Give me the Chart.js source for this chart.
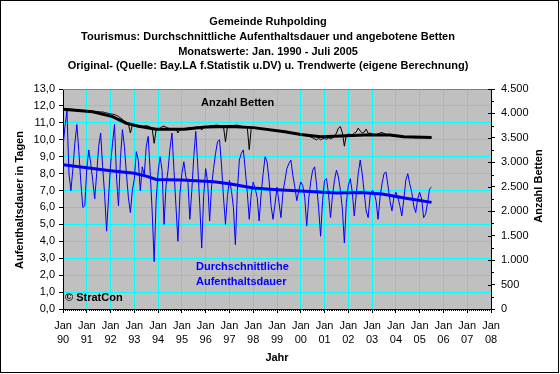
<!DOCTYPE html>
<html>
<head>
<meta charset="utf-8">
<script src="https://cdn.jsdelivr.net/npm/chart.js@4.4.1/dist/chart.umd.min.js"></script>
<style>
  html, body { margin: 0; padding: 0; background: #fff; }
  #wrap { width: 560px; height: 374px; position: relative; }
</style>
</head>
<body>
<div id="wrap"><canvas id="chart"></canvas></div>
<script>
// x tick labels (Jan of each year)
const xTickLabels = ['90','91','92','93','94','95','96','97','98','99','00','01','02','03','04','05','06','07','08'];

// average length of stay in days, monthly Jan 1990 - Jul 2005
const stayValues = [
  9.5, 10.8, 11.7, 8.0, 7.0, 8.3, 9.8, 10.9, 9.3, 7.5, 6.0, 6.1,
  8.3, 9.4, 8.6, 7.6, 6.5, 8.0, 9.6, 10.4, 8.4, 6.8, 4.6, 6.6,
  8.5, 9.8, 10.9, 7.8, 6.1, 8.9, 10.6, 9.6, 8.0, 6.6, 5.7, 7.0,
  7.7, 9.3, 8.8, 7.0, 8.4, 7.9, 9.6, 10.2, 8.1, 5.8, 2.8, 6.4,
  8.1, 9.0, 8.2, 5.0, 7.3, 8.2, 9.5, 10.4, 8.2, 6.1, 4.0, 6.8,
  8.0, 8.7, 7.8, 7.6, 5.3, 7.0, 9.0, 10.5, 8.5, 6.2, 3.6, 6.7,
  8.3, 7.5, 5.2, 7.3, 8.3, 9.2, 9.9, 10.0, 8.5, 6.6, 5.0, 6.7,
  7.6, 7.0, 6.0, 3.8, 7.0, 8.8, 9.2, 9.4, 8.2, 6.9, 5.3, 6.8,
  7.5, 7.1, 6.6, 5.2, 6.8, 8.0, 9.0, 8.7, 7.6, 6.1, 5.3, 6.2,
  7.2, 6.3, 5.4, 6.9, 7.6, 8.3, 8.6, 8.8, 7.9, 7.2, 6.4, 7.0,
  7.5, 7.3, 6.6, 4.9, 6.5, 7.5, 8.2, 8.4, 7.3, 6.0, 4.3, 6.4,
  7.6, 7.7, 6.8, 5.4, 6.7, 7.6, 8.2, 7.8, 7.0, 5.9, 3.9, 6.3,
  7.3, 7.7, 6.9, 5.5, 6.8, 8.0, 8.8, 8.0, 6.9, 5.8, 5.4, 6.7,
  7.0, 6.9, 6.4, 5.3, 6.6, 7.4, 8.0, 8.1, 7.3, 6.4, 5.8, 6.6,
  6.9, 6.6, 6.1, 5.5, 6.5, 7.6, 8.0, 7.4, 6.9, 6.1, 5.7, 6.5,
  6.9, 6.5, 5.4, 5.6, 6.3, 7.1, 7.2
];

// offered beds, monthly Jan 1990 - Jul 2005
const bedValues = [
  4100, 4095, 4090, 4090, 4085, 4085, 4080, 4075, 4070, 4065, 4060, 4060,
  4055, 4050, 4045, 4045, 4040, 4040, 4035, 4030, 4030, 4020, 4010, 4000,
  3990, 3985, 3975, 3960, 3940, 3910, 3880, 3840, 3810, 3790, 3600, 3760,
  3740, 3730, 3720, 3720, 3730, 3740, 3750, 3740, 3720, 3690, 3390, 3660,
  3670, 3700, 3730, 3740, 3720, 3700, 3690, 3690, 3680, 3680, 3600, 3680,
  3680, 3690, 3690, 3700, 3700, 3710, 3710, 3720, 3720, 3710, 3660, 3720,
  3720, 3730, 3740, 3750, 3750, 3760, 3760, 3750, 3740, 3730, 3420, 3730,
  3740, 3750, 3750, 3760, 3760, 3750, 3740, 3730, 3720, 3720, 3260, 3700,
  3710, 3710, 3700, 3700, 3690, 3690, 3680, 3670, 3670, 3660, 3650, 3650,
  3640, 3640, 3630, 3620, 3620, 3610, 3600, 3590, 3590, 3580, 3570, 3570,
  3560, 3560, 3550, 3540, 3530, 3520, 3500, 3480, 3460, 3490, 3460, 3480,
  3490, 3470, 3500, 3480, 3500, 3520, 3600, 3700, 3730, 3600, 3330, 3560,
  3580, 3570, 3560, 3600, 3620, 3700, 3640, 3600, 3620, 3680, 3590, 3600,
  3580, 3570, 3570, 3580, 3600, 3610, 3590, 3570, 3560, 3570, 3540, 3560,
  3550, 3550, 3530, 3520, 3510, 3510, 3520, 3520, 3510, 3510, 3500, 3510,
  3510, 3510, 3510, 3510, 3510, 3510, 3510
];

// trend values (month index since Jan 1990)
const stayTrendMonths = [0, 12, 24, 36, 42, 47, 60, 76, 84, 96, 108, 120, 138, 150, 161, 173, 186];
const stayTrendValues = [8.53, 8.35, 8.17, 8.02, 7.85, 7.65, 7.62, 7.52, 7.4, 7.15, 7.05, 6.97, 6.86, 6.88, 6.79, 6.54, 6.3];
const bedTrendMonths  = [0, 15, 25, 32, 39, 47, 61, 72, 84, 96, 112, 120, 130, 140, 152, 165, 172, 186];
const bedTrendValues  = [4086, 4036, 3935, 3800, 3731, 3677, 3677, 3725, 3731, 3710, 3627, 3570, 3525, 3537, 3560, 3560, 3525, 3506];

const FONT = "'Liberation Sans', Arial, sans-serif";
const BLUE = '#0000ff';

const monthly = vals => vals.map((v, i) => ({ x: i, y: v }));
const paired  = (ms, vals) => ms.map((m, i) => ({ x: m, y: vals[i] }));
const thousands = v => String(v).replace(/\B(?=(\d{3})+(?!\d))/g, '.');

const decor = {
  id: 'decor',
  beforeDraw(chart) {
    const { ctx, chartArea: a } = chart;
    ctx.save();
    ctx.fillStyle = '#fff';
    ctx.fillRect(0, 0, chart.width, chart.height);
    ctx.fillStyle = '#c0c0c0';
    ctx.fillRect(a.left, a.top, a.right - a.left, a.bottom - a.top);
    ctx.restore();
  },
  afterDraw(chart) {
    const { ctx, chartArea: a } = chart;
    const { x, y2 } = chart.scales;
    ctx.save();
    // plot top border
    ctx.strokeStyle = '#808080';
    ctx.lineWidth = 1;
    ctx.beginPath(); ctx.moveTo(a.left, a.top + 0.5); ctx.lineTo(a.right, a.top + 0.5); ctx.stroke();
    ctx.strokeStyle = '#000';
    ctx.beginPath();
    // right axis minor ticks + inner major ticks
    for (let v = 250; v < 4500; v += 500) {
      const p = Math.round(y2.getPixelForValue(v)) + 0.5;
      ctx.moveTo(a.right, p); ctx.lineTo(a.right + 3, p);
    }
    for (let v = 0; v <= 4500; v += 500) {
      const p = Math.round(y2.getPixelForValue(v)) + 0.5;
      ctx.moveTo(a.right - 3, p); ctx.lineTo(a.right, p);
    }
    // x axis monthly minor ticks
    for (let m = 1; m < 216; m++) {
      if (m % 12 === 0) continue;
      const p = Math.round(x.getPixelForValue(m)) + 0.5;
      ctx.moveTo(p, a.bottom); ctx.lineTo(p, a.bottom + 2);
    }
    ctx.stroke();
    // outer border
    ctx.strokeRect(0.5, 0.5, chart.width - 2, chart.height - 2);

    // title
    ctx.fillStyle = '#000';
    ctx.textAlign = 'center';
    ctx.textBaseline = 'middle';
    ctx.font = 'bold 11px ' + FONT;
    const title = [
      'Gemeinde Ruhpolding',
      'Tourismus: Durchschnittliche Aufenthaltsdauer und angebotene Betten',
      'Monatswerte: Jan. 1990 - Juli 2005',
      'Original- (Quelle: Bay.LA f.Statistik u.DV) u. Trendwerte (eigene Berechnung)'
    ];
    title.forEach((t, i) => ctx.fillText(t, 268, 22 + i * 14.8));

    // axis titles
    ctx.fillText('Jahr', 277, 358);
    ctx.save();
    ctx.translate(20, 200); ctx.rotate(-Math.PI / 2);
    ctx.fillText('Aufenthaltsdauer in Tagen', 0, 0);
    ctx.restore();
    ctx.save();
    ctx.translate(539, 186); ctx.rotate(-Math.PI / 2);
    ctx.fillText('Anzahl Betten', 0, 0);
    ctx.restore();

    // in-plot labels
    ctx.textAlign = 'left';
    ctx.fillText('Anzahl Betten', 201, 103);
    ctx.fillText('\u00A9 StratCon', 65, 298);
    ctx.fillStyle = BLUE;
    ctx.fillText('Durchschnittliche', 196, 267);
    ctx.fillText('Aufenthaltsdauer', 196, 282);
    ctx.restore();
  }
};

new Chart(document.getElementById('chart'), {
  type: 'line',
  data: {
    datasets: [
      { data: paired(bedTrendMonths, bedTrendValues), yAxisID: 'y2', borderColor: '#000', borderWidth: 3 },
      { data: monthly(bedValues), yAxisID: 'y2', borderColor: '#000', borderWidth: 1 },
      { data: paired(stayTrendMonths, stayTrendValues), yAxisID: 'y', borderColor: BLUE, borderWidth: 3 },
      { data: monthly(stayValues), yAxisID: 'y', borderColor: BLUE, borderWidth: 1 }
    ]
  },
  options: {
    responsive: true,
    maintainAspectRatio: false,
    animation: false,
    devicePixelRatio: 1,
    layout: { padding: { top: 89, left: 0, right: 0, bottom: 0 } },
    elements: { point: { radius: 0 }, line: { tension: 0, fill: false } },
    plugins: { legend: { display: false }, tooltip: { enabled: false } },
    scales: {
      x: {
        type: 'linear', min: 0, max: 216,
        afterFit: s => { s.height = 65; },
        ticks: {
          stepSize: 12, autoSkip: false, maxRotation: 0, color: '#000', padding: 5,
          font: { family: FONT, size: 11, lineHeight: 1.36 },
          callback: v => ['Jan', xTickLabels[Math.round(v / 12)]]
        },
        grid: { color: '#00ffff', tickColor: '#000', tickLength: 4 },
        border: { color: '#000' }
      },
      y: {
        min: 0, max: 13,
        afterFit: s => { s.width = 63; },
        ticks: {
          stepSize: 1, color: '#000', padding: 4,
          font: { family: FONT, size: 11 },
          callback: v => v.toFixed(1).replace('.', ',')
        },
        grid: { color: '#00ffff', tickColor: '#000', tickLength: 4 },
        border: { color: '#000' }
      },
      y2: {
        position: 'right', min: 0, max: 4500,
        afterFit: s => { s.width = 69; },
        ticks: {
          stepSize: 500, color: '#000', padding: 6,
          font: { family: FONT, size: 11 },
          callback: v => thousands(v)
        },
        grid: { drawOnChartArea: false, tickColor: '#000', tickLength: 4 },
        border: { color: '#000' }
      }
    }
  },
  plugins: [decor]
});
</script>
</body>
</html>
